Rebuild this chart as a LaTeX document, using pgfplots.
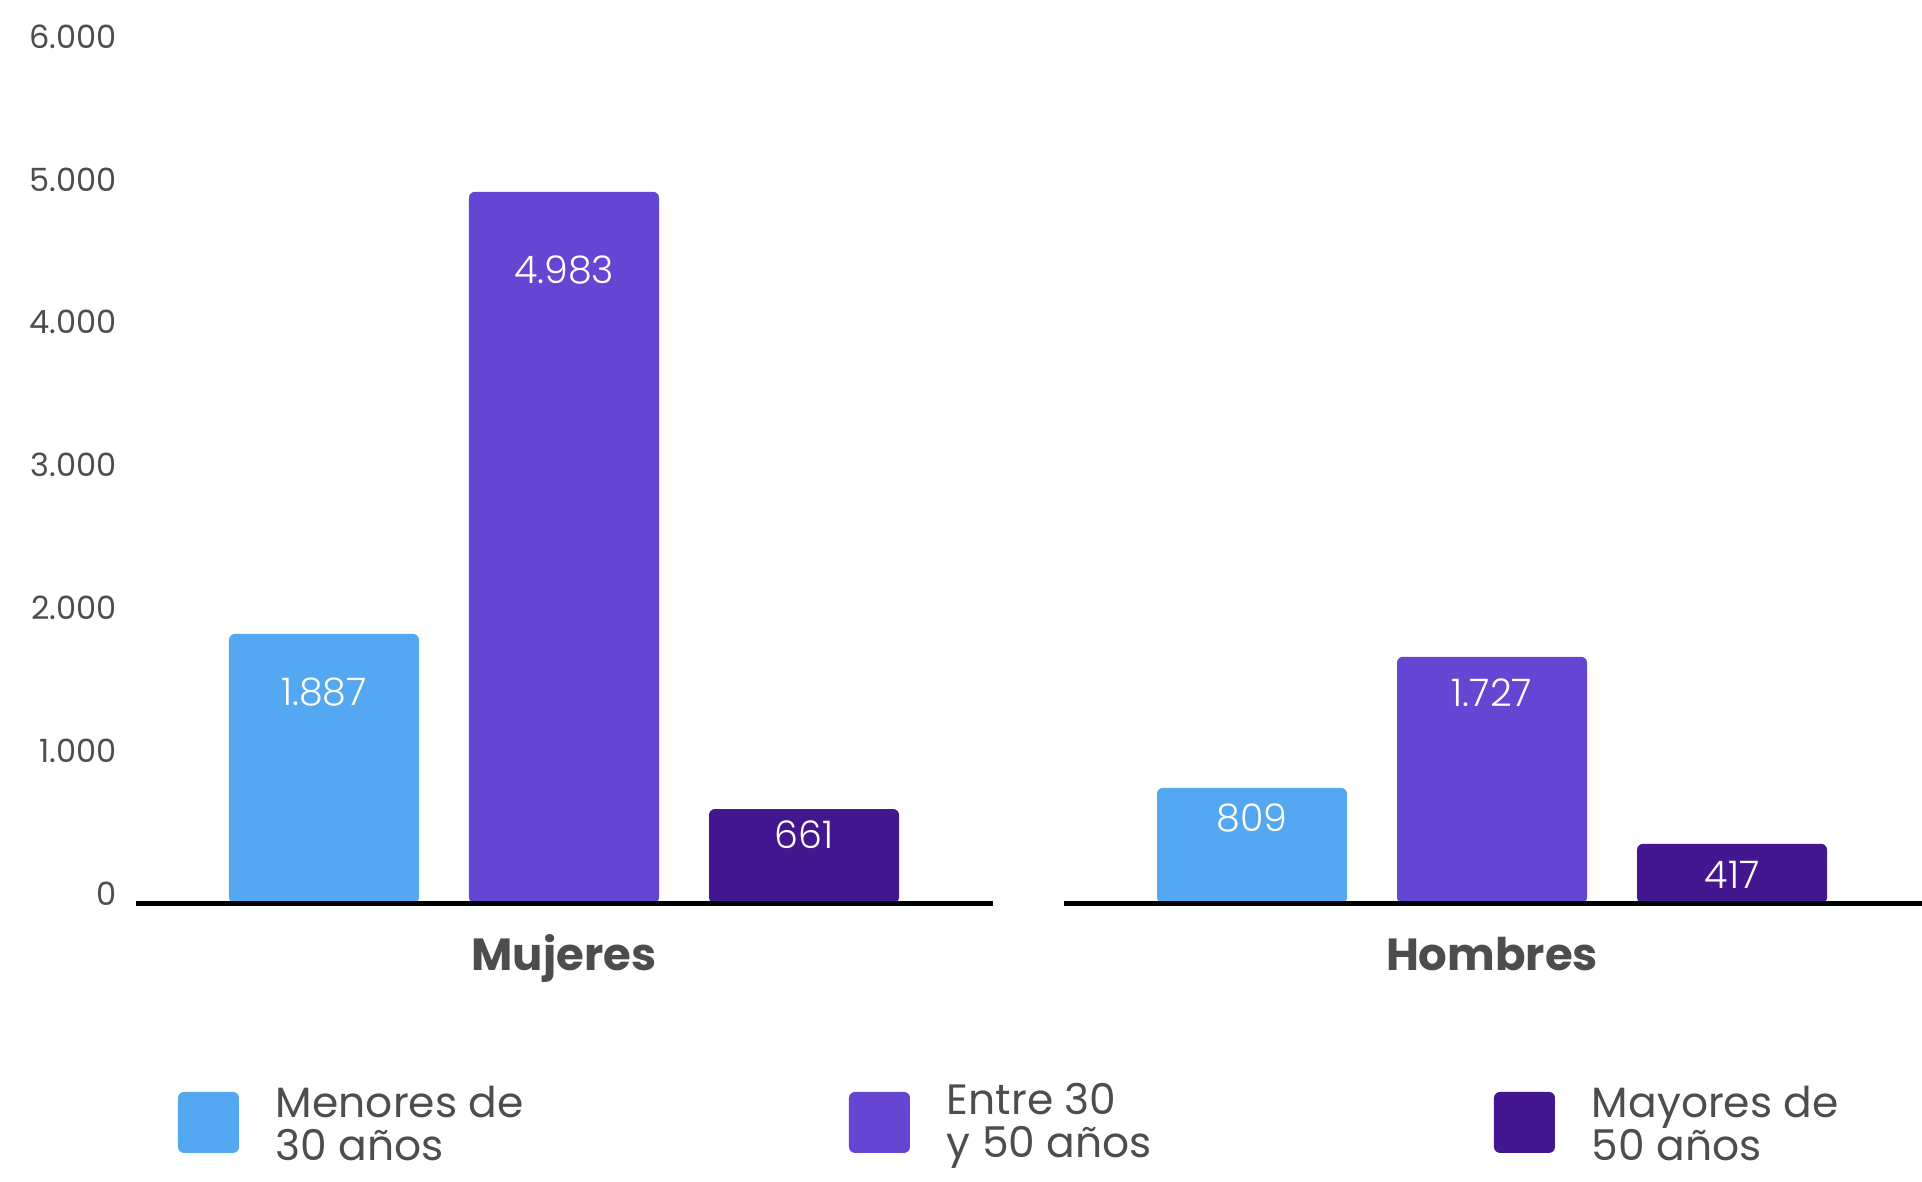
\documentclass[border=0pt]{standalone}
\usepackage{pgfplots}
\pgfplotsset{compat=1.18}
\usepackage{fontspec}
\setmainfont{Poppins}
\newfontfamily\lightfont{Poppins Light}
\definecolor{cA}{RGB}{83,168,241}
\definecolor{cB}{RGB}{101,70,211}
\definecolor{cC}{RGB}{67,23,143}
\definecolor{tgray}{RGB}{77,77,77}
\begin{document}
\begin{tikzpicture}
\path[use as bounding box] (0,0) rectangle (961bp,591bp);
\begin{axis}[
  at={(68bp,139.3bp)}, anchor=south west,
  scale only axis, width=893bp, height=428.4bp,
  xmin=-0.7833, xmax=6.6583, ymin=0, ymax=6000,
  axis line style={draw=none}, clip=false,
  ybar, bar shift=0pt, bar width=0.7917,
  ytick={0,1000,2000,3000,4000,5000,6000},
  scaled y ticks=false,
  xtick={1,4.8667}, xticklabels={Mujeres,Hombres},
  major tick length=0pt,
  /pgf/number format/1000 sep={.},
  /pgf/number format/assume math mode=true,
  yticklabel style={font=\fontsize{16bp}{16bp}\selectfont, text=tgray, anchor=east, xshift=-6.2bp, yshift=5bp},
  xticklabel style={font=\bfseries\fontsize{22.5bp}{22.5bp}\selectfont, text=tgray, anchor=base, yshift=-33.8bp},
  legend columns=3,
  legend cell align=left,
  legend style={at={(0.02352,-0.2507)}, anchor=west, draw=none, fill=none, inner sep=0pt, outer sep=0pt, column sep=0pt, row sep=0pt,
    nodes={inner sep=0pt, text=tgray, font=\fontsize{21.2bp}{21.5bp}\selectfont},
    /tikz/every even column/.style={column sep=0pt}, /tikz/every odd column/.style={column sep=0pt}},
  legend image code/.code={\fill[#1, rounded corners=3bp] (0bp,-20.75bp) rectangle (30.5bp,9.75bp); \path[draw=none,fill=none] (0bp,0bp) rectangle (49bp,0.1bp);},
]
\addplot[fill=cA, draw=none, rounded corners=3bp] coordinates {(0,1887) (3.8667,809)};
\addlegendentry{\parbox[c]{286.5bp}{Menores de\\30 años}}
\addplot[fill=cB, draw=none, rounded corners=3bp] coordinates {(1,4983) (4.8667,1727)};
\addlegendentry{\parbox[c]{273.5bp}{Entre 30\\y 50 años}}
\addplot[fill=cC, draw=none, rounded corners=3bp] coordinates {(2,661) (5.8667,417)};
\addlegendentry{\parbox[c]{150bp}{Mayores de\\50 años}}
\addplot[forget plot, only marks, mark=*, mark size=0pt, mark options={draw=none,fill=none},
  nodes near coords, point meta=explicit symbolic,
  every node near coord/.append style={anchor=center, text=white, font=\lightfont\fontsize{19bp}{19bp}\selectfont}]
  table[meta=lab] {
x y lab
0 1480 1.887
1 4436 4.983
2 480 661
3.8667 600 809
4.8667 1475 1.727
5.8667 199 417
};
\addplot[forget plot, sharp plot, black, line width=2.6bp, mark=none] coordinates {(-0.7833,0) (2.7875,0)};
\addplot[forget plot, sharp plot, black, line width=2.6bp, mark=none] coordinates {(3.0833,0) (6.6583,0)};
\end{axis}
\end{tikzpicture}
\end{document}
